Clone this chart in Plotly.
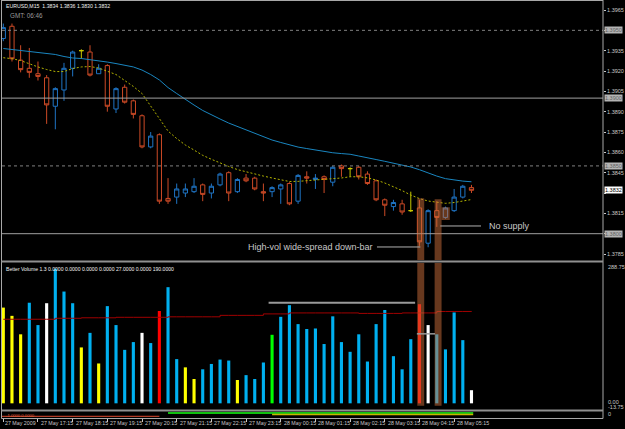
import plotly.graph_objects as go

# ---------------- data ----------------
bar_index = list(range(55))
opens = [1.3944, 1.3953, 1.3928, 1.3922, 1.3918, 1.3915, 1.3894, 1.3906, 1.3922, 1.3935,
         1.3934, 1.3918, 1.3924, 1.3892, 1.3908, 1.3898, 1.3887, 1.3864, 1.3873, 1.3826,
         1.3827, 1.3830, 1.3831, 1.3836, 1.3830, 1.3836, 1.3845, 1.3831, 1.3841, 1.3841,
         1.3831, 1.3831, 1.3833, 1.3837, 1.3824, 1.3842, 1.3840, 1.3842, 1.3838, 1.3850,
         1.3848, 1.3849, 1.3844, 1.3839, 1.3825, 1.3820, 1.3822, 1.3817, 1.3819, 1.3793,
         1.3817, 1.3812, 1.3817, 1.3827, 1.3834]
highs = [1.3955, 1.3955, 1.3939, 1.3937, 1.3927, 1.3917, 1.3908, 1.3926, 1.3935, 1.3936,
         1.3939, 1.3925, 1.3925, 1.3908, 1.3910, 1.3899, 1.3888, 1.3875, 1.3874, 1.3841,
         1.3837, 1.3837, 1.3841, 1.3837, 1.3837, 1.3845, 1.3846, 1.3841, 1.3844, 1.3842,
         1.3837, 1.3835, 1.3837, 1.3838, 1.3844, 1.3846, 1.3844, 1.3843, 1.3850, 1.3851,
         1.3849, 1.3850, 1.3846, 1.3840, 1.3826, 1.3825, 1.3825, 1.3831, 1.3825, 1.3818,
         1.3824, 1.3820, 1.3833, 1.3836, 1.3836]
lows = [1.3942, 1.3927, 1.3919, 1.3915, 1.3913, 1.3881, 1.3877, 1.3898, 1.3916, 1.3929,
        1.3916, 1.3918, 1.3890, 1.3889, 1.3896, 1.3885, 1.3863, 1.3863, 1.3822, 1.3822,
        1.3822, 1.3827, 1.3830, 1.3824, 1.3826, 1.3835, 1.3824, 1.3830, 1.3838, 1.3832,
        1.3824, 1.3827, 1.3822, 1.3821, 1.3822, 1.3837, 1.3833, 1.3830, 1.3835, 1.3842,
        1.3842, 1.3840, 1.3836, 1.3824, 1.3813, 1.3817, 1.3814, 1.3816, 1.3791, 1.3790,
        1.3805, 1.3811, 1.3816, 1.3826, 1.3830]
closes = [1.3952, 1.3929, 1.3921, 1.3919, 1.3916, 1.3895, 1.3907, 1.3922, 1.3934, 1.3935,
          1.3917, 1.3922, 1.3894, 1.3907, 1.3897, 1.3888, 1.3864, 1.3872, 1.3824, 1.3824,
          1.3833, 1.3833, 1.3835, 1.3829, 1.3835, 1.3844, 1.3830, 1.3840, 1.3839, 1.3833,
          1.3830, 1.3834, 1.3836, 1.3822, 1.3843, 1.3841, 1.3841, 1.3840, 1.3849, 1.3848,
          1.3848, 1.3842, 1.3837, 1.3825, 1.3821, 1.3823, 1.3816, 1.3817, 1.3794, 1.3817,
          1.3812, 1.3819, 1.3827, 1.3835, 1.3832]
doji_bars = [9, 40, 47]

ma_slow = [1.39366, 1.39359, 1.39355, 1.39348, 1.39340, 1.39333, 1.39322, 1.39307, 1.39296, 1.39292,
           1.39285, 1.39277, 1.39266, 1.39255, 1.39244, 1.39230, 1.39207, 1.39174, 1.39134, 1.39078,
           1.39034, 1.38990, 1.38949, 1.38909, 1.38875, 1.38846, 1.38816, 1.38791, 1.38765, 1.38743,
           1.38717, 1.38691, 1.38673, 1.38654, 1.38639, 1.38628, 1.38617, 1.38608, 1.38597, 1.38591,
           1.38586, 1.38573, 1.38562, 1.38547, 1.38534, 1.38521, 1.38507, 1.38492, 1.38472, 1.38448,
           1.38425, 1.38406, 1.38396, 1.38388, 1.38383]
ma_fast = [1.39298, 1.39291, 1.39277, 1.39252, 1.39230, 1.39211, 1.39196, 1.39196, 1.39218, 1.39230,
           1.39233, 1.39222, 1.39200, 1.39174, 1.39130, 1.39086, 1.39034, 1.38942, 1.38846, 1.38757,
           1.38702, 1.38654, 1.38617, 1.38578, 1.38549, 1.38521, 1.38496, 1.38473, 1.38456, 1.38442,
           1.38425, 1.38411, 1.38396, 1.38385, 1.38386, 1.38390, 1.38394, 1.38398, 1.38403, 1.38411,
           1.38420, 1.38420, 1.38412, 1.38396, 1.38374, 1.38347, 1.38318, 1.38285, 1.38259, 1.38241,
           1.38230, 1.38224, 1.38230, 1.38241, 1.38252]

volume = [197, 180, 142, 207, 161, 206, 277, 230, 206, 115,
          145, 82, 200, 161, 110, 126, 145, 124, 190, 239,
          91, 74, 50, 70, 81, 90, 88, 48, 58, 50,
          84, 141, 178, 202, 163, 153, 154, 122, 179, 126,
          106, 142, 86, 163, 192, 97, 70, 132, 204, 161,
          142, 111, 187, 130, 27]
volume_class = ["low", "low", "low", "neutral", "neutral", "climax_low", "neutral", "neutral", "neutral", "low",
                "neutral", "low", "neutral", "neutral", "neutral", "neutral", "climax_low", "neutral", "climax_high", "neutral",
                "neutral", "low", "low", "neutral", "neutral", "neutral", "neutral", "low", "neutral", "neutral",
                "neutral", "churn", "neutral", "neutral", "neutral", "neutral", "neutral", "neutral", "neutral", "neutral",
                "neutral", "neutral", "neutral", "neutral", "neutral", "neutral", "neutral", "neutral", "climax_high", "climax_low",
                "neutral", "neutral", "neutral", "neutral", "climax_low"]
volume_avg = [173, 173, 173, 173, 173, 173, 175, 175, 175, 176,
              176, 176, 176, 177, 177, 177, 177, 177, 177, 178,
              178, 178, 178, 178, 178, 181, 181, 181, 181, 181,
              184, 184, 184, 186, 186, 186, 186, 186, 186, 186,
              186, 185, 185, 185, 185, 185, 186, 186, 186, 186,
              189, 189, 189, 189, 190]

time_tick_bars = [0, 4, 8, 12, 16, 20, 24, 28, 32, 36, 40, 44, 48, 52]
time_tick_labels = ["27 May 2009", "27 May 17:15", "27 May 18:15", "27 May 19:15", "27 May 20:15",
                    "27 May 21:15", "27 May 22:15", "27 May 23:15", "28 May 00:15", "28 May 01:15",
                    "28 May 02:15", "28 May 03:15", "28 May 04:15", "28 May 05:15"]
price_ticks = [1.3965, 1.3950, 1.3935, 1.3920, 1.3905, 1.3890, 1.3875, 1.3860,
               1.3845, 1.3830, 1.3815, 1.3800, 1.3785]
levels_solid = [1.3900, 1.3800]
levels_dashed = [1.3950, 1.3850]
last_bid = 1.3832
header_ohlc = "EURUSD,M15  1.3834 1.3836 1.3830 1.3832"
gmt_text = "GMT: 06:46"
vol_header = "Better Volume 1.3 0.0000 0.0000 0.0000 0.0000 27.0000 0.0000 190.0000"
vol_axis_labels = [288.75, 0.00, -13.75]

# annotated setups
box_bar = 51
strip_tops = {48: 1.38261, 50: 1.38254}
box_range = (1.38101, 1.38195)
no_supply_level = 1.38057
wide_label_level = 1.37902
vol_level_long = (207, 30.6, 47.5)
vol_level_short = (143, 47.7, 49.8)

# ---------------- style ----------------
W, H = 625, 429
FONT = "Liberation Sans, Arial, sans-serif"
BULL = "#1f74c4"
BEAR = "#cc4a26"
DOJI = "#c8c800"
MA_SLOW = "#1a86c0"
MA_FAST = "#b4b400"
VOL_COL = {"neutral": "#00b0f0", "low": "#ffff00", "climax_low": "#ffffff",
           "climax_high": "#ff0000", "churn": "#00ff00"}
AXIS_TXT = "#c8c8c8"
FRAME = "#a8a8a8"
HILITE = "rgba(205,112,60,0.5)"


def px_x(x):
    return x / W


def px_y(y):
    return 1 - y / H


XDOM = [px_x(2), px_x(603)]
XR = [-0.15, 69.17]

fig = go.Figure()

# candles
groups = {"bull": [], "bear": [], "doji": []}
for i in bar_index:
    if i in doji_bars:
        groups["doji"].append(i)
    elif closes[i] > opens[i]:
        groups["bull"].append(i)
    else:
        groups["bear"].append(i)
for g, col in (("bull", BULL), ("bear", BEAR), ("doji", DOJI)):
    ids = groups[g]
    fig.add_trace(go.Candlestick(
        x=ids, open=[opens[i] for i in ids], high=[highs[i] for i in ids],
        low=[lows[i] for i in ids], close=[closes[i] for i in ids],
        increasing=dict(line=dict(color=col, width=1), fillcolor="rgba(0,0,0,0)"),
        decreasing=dict(line=dict(color=col, width=1), fillcolor="rgba(0,0,0,0)"),
        whiskerwidth=0, showlegend=False, hoverinfo="skip", xaxis="x", yaxis="y"))

fig.add_trace(go.Scatter(x=bar_index, y=ma_slow, mode="lines",
                         line=dict(color=MA_SLOW, width=1), showlegend=False,
                         hoverinfo="skip", xaxis="x", yaxis="y"))
fig.add_trace(go.Scatter(x=bar_index, y=ma_fast, mode="lines",
                         line=dict(color=MA_FAST, width=1, dash="2px,2px"), showlegend=False,
                         hoverinfo="skip", xaxis="x", yaxis="y"))

# volume
fig.add_trace(go.Bar(x=bar_index, y=volume, width=0.36,
                     marker=dict(color=[VOL_COL[c] for c in volume_class], line=dict(width=0)),
                     showlegend=False, hoverinfo="skip", xaxis="x2", yaxis="y2"))
fig.add_trace(go.Scatter(x=bar_index, y=volume_avg, mode="lines", line=dict(color="#a00000", width=1),
                         line_shape="hv", showlegend=False, hoverinfo="skip", xaxis="x2", yaxis="y2"))

# bottom mini indicator panel lines
fig.add_trace(go.Scatter(x=[-0.15, 18.0], y=[1.7, 1.7], mode="lines", line=dict(color="#e04a30", width=1),
                         showlegend=False, hoverinfo="skip", xaxis="x3", yaxis="y3"))
fig.add_trace(go.Scatter(x=[19.0, 54.2], y=[5.0, 5.0], mode="lines", line=dict(color="#10c010", width=2),
                         showlegend=False, hoverinfo="skip", xaxis="x3", yaxis="y3"))
fig.add_trace(go.Scatter(x=[31.0, 54.2], y=[3.6, 3.6], mode="lines", line=dict(color="#c8b400", width=1.5),
                         showlegend=False, hoverinfo="skip", xaxis="x3", yaxis="y3"))

shapes = []
for lv in levels_solid:
    shapes.append(dict(type="line", xref="x domain", yref="y", x0=0, x1=1, y0=lv, y1=lv,
                       line=dict(color="#a0a0a0", width=1), layer="above"))
for lv in levels_dashed:
    shapes.append(dict(type="line", xref="x domain", yref="y", x0=0, x1=1, y0=lv, y1=lv,
                       line=dict(color="#808080", width=1, dash="3px,3px"), layer="above"))
for b, top in strip_tops.items():
    shapes.append(dict(type="rect", xref="x", yref="y", x0=b - 0.25, x1=b + 0.55, y0=1.3778, y1=top,
                       fillcolor=HILITE, line=dict(width=0), layer="above"))
    shapes.append(dict(type="rect", xref="x2", yref="y2", x0=b - 0.25, x1=b + 0.55, y0=-5, y1=288.75,
                       fillcolor=HILITE, line=dict(width=0), layer="above"))
shapes.append(dict(type="rect", xref="x", yref="y", x0=box_bar - 0.45, x1=box_bar + 0.5,
                   y0=box_range[0], y1=box_range[1], fillcolor=HILITE, line=dict(width=0), layer="above"))
shapes.append(dict(type="line", xref="x", yref="y", x0=50.4, x1=55.1, y0=no_supply_level, y1=no_supply_level,
                   line=dict(color="#b0b0b0", width=1), layer="above"))
shapes.append(dict(type="line", xref="x", yref="y", x0=43.1, x1=48.1, y0=wide_label_level, y1=wide_label_level,
                   line=dict(color="#b0b0b0", width=1), layer="above"))
for lv, a, b in (vol_level_long, vol_level_short):
    shapes.append(dict(type="line", xref="x2", yref="y2", x0=a, x1=b, y0=lv, y1=lv,
                       line=dict(color="#9a9a9a", width=2 if lv == vol_level_long[0] else 1.5), layer="above"))


def pline(x0, y0, x1, y1, col=FRAME, w=1):
    shapes.append(dict(type="line", xref="paper", yref="paper", x0=px_x(x0), x1=px_x(x1),
                       y0=px_y(y0), y1=px_y(y1), line=dict(color=col, width=w), layer="above"))


pline(1.5, 0, 1.5, 418.5)
pline(603, 0, 603, 418.5)
pline(1.5, 0.5, 603, 0.5)
pline(1.5, 261.5, 603, 261.5, "#909090", 2)
pline(1.5, 410.5, 603, 410.5, "#909090", 2)
pline(1.5, 418.5, 603, 418.5)

ann = []


def txt(x, y, s, size=5.5, color=AXIS_TXT, xanchor="left", bg=None, xref="paper", yref="paper"):
    d = dict(x=x, y=y, xref=xref, yref=yref, text=s, showarrow=False, xanchor=xanchor,
             yanchor="middle", font=dict(family=FONT, size=size, color=color))
    if bg:
        d.update(bgcolor=bg, borderpad=0)
    ann.append(d)


txt(px_x(4), px_y(6), header_ohlc, 5.2, "#f0f0f0")
txt(px_x(8), px_y(15.5), gmt_text, 6.3, "#9a9a9a")
txt(px_x(4), px_y(268.5), vol_header, 5.1, "#f0f0f0")
txt(px_x(4), px_y(415.5), "-1.0000 0.0000", 4.2, "#e06040")

for lv in levels_solid + levels_dashed:
    txt(px_x(604), lv, f"{lv:.4f}", 5.5, "#606060", bg="#b4b4b4", yref="y")
txt(px_x(604), last_bid, f"{last_bid:.4f}", 5.5, "#000000", bg="#ffffff", yref="y")

txt(px_x(605.5), px_y(267), f"{vol_axis_labels[0]:.2f}", 5.5)
txt(px_x(605.5), px_y(401.5), f"{vol_axis_labels[1]:.2f}", 5.5)
txt(px_x(605.5), px_y(406.5), f"{vol_axis_labels[2]:.2f}", 5.5)
txt(px_x(605.5), px_y(414), "0", 5.5)

for b, s in zip(time_tick_bars, time_tick_labels):
    ann.append(dict(x=b, y=px_y(422.5), xref="x3", yref="paper", text=s, showarrow=False,
                    xanchor="left", yanchor="middle", xshift=1 if b else 0,
                    font=dict(family=FONT, size=5.3, color=AXIS_TXT)))

ann.append(dict(x=55.8, y=no_supply_level, xref="x", yref="y", text="No supply", showarrow=False,
                xanchor="left", yanchor="middle", font=dict(family=FONT, size=9, color="#c8c8c8")))
ann.append(dict(x=42.9, y=wide_label_level, xref="x", yref="y", text="High-vol wide-spread down-bar",
                showarrow=False, xanchor="right", yanchor="middle",
                font=dict(family=FONT, size=9, color="#c8c8c8")))

covered = {1.3950, 1.3800, 1.3830}
tick_text = ["" if v in covered else f"{v:.4f}" for v in price_ticks]

base_x = dict(range=XR, domain=XDOM, showgrid=False, zeroline=False, showticklabels=False,
              showline=False, fixedrange=True, automargin=False)
fig.update_layout(
    width=W, height=H, margin=dict(l=0, r=0, t=0, b=0),
    paper_bgcolor="#000000", plot_bgcolor="#000000", template="none",
    showlegend=False, hovermode=False,
    xaxis=dict(**base_x, anchor="y", rangeslider=dict(visible=False), ticks=""),
    yaxis=dict(domain=[px_y(260), px_y(2)], range=[1.37806, 1.39709], side="right", anchor="x",
               showgrid=False, zeroline=False, showline=False, ticks="outside", ticklen=2,
               tickcolor=AXIS_TXT, tickvals=price_ticks, ticktext=tick_text, ticklabelstandoff=0,
               tickfont=dict(family=FONT, size=5.5, color=AXIS_TXT), automargin=False, fixedrange=True),
    xaxis2=dict(**base_x, anchor="y2", matches="x", ticks=""),
    yaxis2=dict(domain=[px_y(410), px_y(263)], range=[-13.75, 288.75], side="right", anchor="x2",
                showgrid=False, zeroline=False, showticklabels=False, showline=False, ticks="",
                automargin=False, fixedrange=True),
    xaxis3=dict(**base_x, anchor="y3", matches="x", ticks="outside", ticklen=3, tickcolor=AXIS_TXT,
                tickvals=time_tick_bars),
    yaxis3=dict(domain=[px_y(418), px_y(411)], range=[0, 7], showgrid=False, zeroline=False,
                showticklabels=False, showline=False, ticks="", automargin=False, fixedrange=True,
                anchor="x3"),
    shapes=shapes, annotations=ann,
)
fig.update_xaxes(showticklabels=False)

fig.write_html("out.html")
